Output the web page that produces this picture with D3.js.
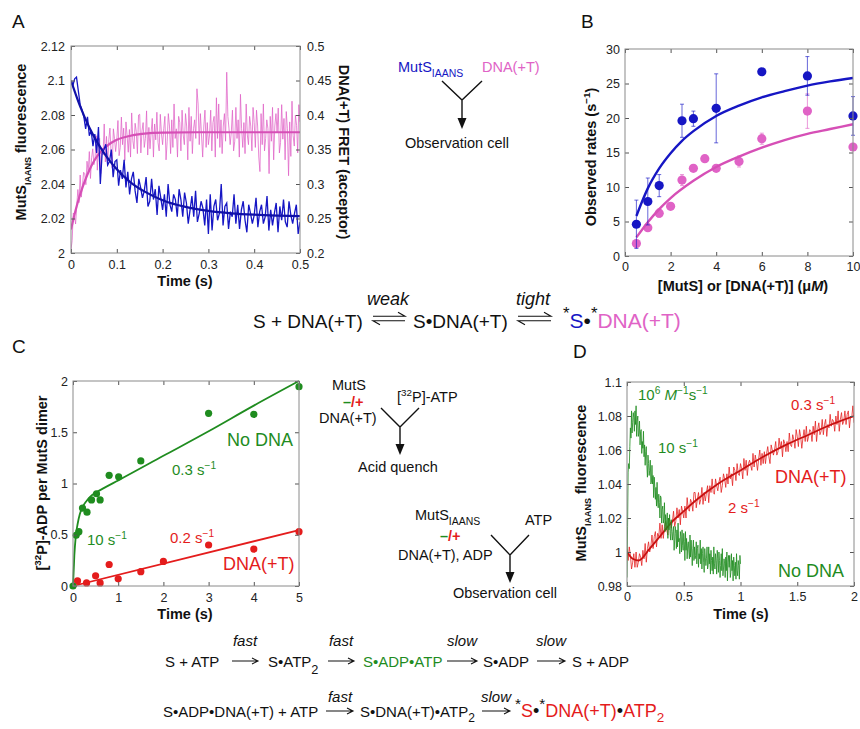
<!DOCTYPE html>
<html lang="en">
<head>
<meta charset="utf-8">
<title>MutS kinetics figure</title>
<script src="https://d3js.org/d3.v7.min.js"></script>
<style>
  body { margin: 0; background: #fff; }
  svg { font-family: "Liberation Sans", Arial, Helvetica, sans-serif; }
</style>
</head>
<body>
<svg id="fig" width="860" height="729"></svg>
<script>
// ---------- data ----------

// A: stopped-flow traces, sampled every step seconds
const aBlueStep = 0.004;
const aBlue = [2.099,2.097,2.101,2.102,2.094,2.086,2.083,2.079,2.072,2.079,2.068,2.071,2.062,2.069,2.058,2.073,2.040,2.058,2.060,2.063,
  2.051,2.053,2.060,2.044,2.053,2.054,2.039,2.048,2.043,2.054,2.038,2.047,2.034,2.043,2.047,2.036,2.029,2.043,2.038,2.032,
  2.036,2.044,2.027,2.030,2.043,2.031,2.037,2.022,2.039,2.032,2.025,2.034,2.021,2.040,2.028,2.024,2.034,2.031,2.021,2.037,
  2.031,2.021,2.035,2.029,2.017,2.025,2.033,2.021,2.036,2.018,2.023,2.030,2.026,2.016,2.031,2.011,2.034,2.013,2.027,2.031,
  2.019,2.023,2.040,2.016,2.027,2.029,2.014,2.024,2.021,2.034,2.017,2.028,2.014,2.025,2.030,2.019,2.012,2.028,2.023,2.017,
  2.022,2.032,2.015,2.024,2.028,2.017,2.021,2.033,2.013,2.025,2.016,2.023,2.029,2.012,2.027,2.019,2.031,2.018,2.015,2.030,
  2.022,2.017,2.023,2.028,2.011,2.018];
const aPinkStep = 0.0025;
const aPink = [0.205,0.218,0.258,0.255,0.242,0.268,0.292,0.273,0.313,0.281,0.297,0.317,0.315,0.299,0.333,0.317,0.347,0.308,0.338,0.351,
  0.328,0.337,0.370,0.320,0.357,0.366,0.315,0.352,0.342,0.387,0.332,0.369,0.326,0.364,0.381,0.346,0.323,0.380,0.366,0.347,
  0.364,0.392,0.341,0.353,0.397,0.357,0.381,0.334,0.390,0.370,0.346,0.379,0.339,0.403,0.363,0.351,0.388,0.376,0.344,0.400,
  0.401,0.345,0.377,0.389,0.353,0.366,0.406,0.342,0.382,0.351,0.375,0.395,0.339,0.387,0.364,0.404,0.360,0.348,0.401,0.373,
  0.357,0.380,0.398,0.335,0.362,0.402,0.384,0.344,0.393,0.353,0.416,0.366,0.380,0.339,0.398,0.389,0.348,0.407,0.371,0.357,
  0.402,0.384,0.335,0.411,0.362,0.398,0.344,0.380,0.393,0.366,0.438,0.416,0.357,0.402,0.371,0.339,0.384,0.407,0.353,0.389,
  0.357,0.371,0.407,0.348,0.389,0.398,0.339,0.425,0.366,0.416,0.353,0.393,0.344,0.384,0.402,0.362,0.462,0.398,0.380,0.357,
  0.375,0.407,0.348,0.362,0.411,0.366,0.393,0.339,0.430,0.380,0.353,0.389,0.344,0.416,0.371,0.357,0.398,0.384,0.348,0.411,
  0.389,0.353,0.407,0.384,0.339,0.318,0.402,0.357,0.416,0.348,0.366,0.393,0.380,0.315,0.398,0.362,0.411,0.335,0.384,0.402,
  0.375,0.410,0.345,0.360,0.415,0.365,0.395,0.335,0.405,0.380,0.312,0.390,0.340,0.420,0.370,0.355,0.400,0.385,0.345,0.415,
  0.390];
const aBlueFitT = [0, 0.02, 0.04, 0.06, 0.08, 0.1, 0.13, 0.16, 0.2, 0.25, 0.3, 0.35, 0.4, 0.45, 0.5];
const aBlueFitV = [2.100, 2.085, 2.0728, 2.063, 2.055, 2.0486, 2.041, 2.0357, 2.0306, 2.0267, 2.0244, 2.023, 2.0222, 2.0217, 2.0214];
const aPinkFitT = [0, 0.01, 0.02, 0.03, 0.04, 0.05, 0.06, 0.08, 0.1, 0.13, 0.16, 0.2, 0.3, 0.5];
const aPinkFitV = [0.234, 0.262, 0.285, 0.304, 0.32, 0.333, 0.343, 0.356, 0.364, 0.37, 0.373, 0.3745, 0.375, 0.375];
const aLeftTicks = [2, 2.02, 2.04, 2.06, 2.08, 2.1, 2.12];
const aRightTicks = [0.2, 0.25, 0.3, 0.35, 0.4, 0.45, 0.5];
const aTimeTicks = [0, 0.1, 0.2, 0.3, 0.4, 0.5];

// B: observed rates vs concentration
const bBlueConc = [0.5, 1, 1.5, 2.5, 3, 4, 6, 8, 10];
const bBlueRate = [4.6, 7.9, 10.2, 19.6, 19.9, 21.4, 26.7, 26.1, 20.3];
const bBlueErr  = [3.5, 3.4, 1.6, 2.4, 1.1, 5.0, 0.3, 2.8, 2.8];
const bPinkConc = [0.5, 1, 1.5, 2, 2.5, 3, 3.5, 4, 5, 6, 8, 10];
const bPinkRate = [1.8, 4.1, 6.2, 7.2, 11.0, 12.7, 14.1, 12.7, 13.7, 17.0, 21.0, 15.8];
const bPinkErr  = [0.5, 0.4, 0.6, 0.3, 0.8, 0.3, 0.3, 0.4, 0.8, 0.8, 2.5, 0.5];
const bBlueFitX = [0.5, 0.75, 1, 1.5, 2, 2.5, 3, 4, 5, 6, 7, 8, 9, 10];
const bBlueFitY = [5.8, 7.9, 9.8, 12.7, 14.9, 16.7, 18.1, 20.3, 21.8, 23.0, 23.9, 24.7, 25.3, 25.8];
const bPinkFitX = [0.5, 1, 1.5, 2, 3, 4, 5, 6, 7, 8, 9, 10];
const bPinkFitY = [2.7, 4.9, 6.8, 8.4, 10.9, 12.9, 14.4, 15.7, 16.8, 17.7, 18.4, 19.1];
const bRateTicks = [0, 5, 10, 15, 20, 25, 30];
const bConcTicks = [0, 2, 4, 6, 8, 10];

// C: acid-quench ADP formation
const cNoDnaTime = [0, 0.07, 0.13, 0.21, 0.31, 0.41, 0.52, 0.6, 0.8, 1.01, 1.5, 3, 4, 5];
const cNoDnaAdp  = [0, 0.495, 0.53, 0.76, 0.72, 0.84, 0.9, 0.84, 1.08, 1.065, 1.22, 1.685, 1.675, 1.945];
const cDnaTime = [0.1, 0.3, 0.5, 0.6, 0.8, 1, 1.5, 2, 3, 4, 5];
const cDnaAdp  = [0.05, 0.03, 0.1, 0.03, 0.21, 0.07, 0.14, 0.24, 0.4, 0.36, 0.53];
const cNoDnaFitT = [0, 0.03, 0.06, 0.1, 0.15, 0.2, 0.3, 0.4, 0.5, 0.7, 1, 2, 3, 4, 5];
const cNoDnaFitV = [0, 0.3, 0.48, 0.6, 0.7, 0.76, 0.83, 0.88, 0.91, 0.96, 1.03, 1.27, 1.51, 1.76, 2.0];
const cDnaFitT = [0, 5];
const cDnaFitV = [0, 0.545];
const cAdpTicks = [0, 0.5, 1, 1.5, 2];
const cTimeTicks = [0, 1, 2, 3, 4, 5];

// D: MutS_IAANS fluorescence on ATP mixing
const dGreenStep = 0.005;
const dGreen = [0.985,1.015,1.047,1.052,1.049,1.062,1.073,1.067,1.083,1.070,1.076,1.082,1.079,1.071,1.083,1.075,1.086,1.068,1.077,1.080,
  1.068,1.070,1.077,1.063,1.071,1.072,1.058,1.065,1.061,1.071,1.056,1.063,1.051,1.059,1.062,1.051,1.044,1.057,1.052,1.045,
  1.048,1.054,1.040,1.041,1.051,1.040,1.045,1.032,1.044,1.038,1.031,1.038,1.027,1.041,1.030,1.026,1.034,1.029,1.020,1.033,
  1.032,1.017,1.025,1.027,1.017,1.020,1.029,1.012,1.022,1.013,1.019,1.023,1.008,1.020,1.013,1.022,1.011,1.007,1.019,1.012,
  1.007,1.012,1.015,1.001,1.007,1.015,1.011,1.002,1.013,1.003,1.017,1.006,1.008,0.999,1.012,1.009,1.000,1.013,1.004,1.001,
  1.011,1.006,0.995,1.012,1.001,1.008,0.996,1.004,1.006,1.000,0.996,1.010,0.997,1.007,1.000,0.992,1.002,1.007,0.995,1.003,
  0.996,0.998,1.006,0.993,1.002,1.004,0.991,0.999,0.996,1.007,0.993,1.002,0.990,0.999,1.003,0.994,0.988,1.002,0.997,0.992,
  0.996,1.003,0.990,0.992,1.003,0.993,0.999,0.987,1.001,0.995,0.989,0.997,0.987,1.003,0.993,0.990,0.999,0.995,0.987,1.001,
  0.996,0.988,1.000,0.995,0.985,0.992,0.999,0.989,1.002,0.986,0.990,0.996,0.993,0.985,0.997,0.989,1.000,0.983,0.994,0.998,
  0.991,0.998,0.985,0.988,0.999,0.989,0.995,0.983,0.997,0.992,0.986,0.994,0.984,0.999,0.989,0.986,0.995,0.992,0.984,0.998,
  0.993];
const dRedStep = 0.01;
const dRed = [1.002,0.995,1.003,0.998,0.990,0.994,0.999,0.991,1.000,0.991,0.994,0.999,0.997,0.992,1.001,0.996,1.005,0.994,1.002,1.006,
  1.000,1.003,1.010,1.002,1.009,1.012,1.003,1.011,1.009,1.017,1.008,1.016,1.008,1.015,1.018,1.013,1.010,1.020,1.018,1.014,
  1.018,1.024,1.015,1.018,1.026,1.020,1.025,1.016,1.027,1.024,1.020,1.027,1.020,1.032,1.025,1.024,1.031,1.029,1.024,1.035,
  1.035,1.026,1.031,1.035,1.028,1.031,1.038,1.028,1.035,1.030,1.035,1.039,1.029,1.039,1.035,1.043,1.035,1.034,1.043,1.039,
  1.036,1.041,1.044,1.035,1.039,1.046,1.043,1.038,1.046,1.040,1.050,1.043,1.046,1.039,1.050,1.048,1.042,1.052,1.046,1.045,
  1.052,1.049,1.043,1.055,1.048,1.054,1.045,1.052,1.054,1.051,1.048,1.058,1.050,1.057,1.053,1.048,1.055,1.060,1.051,1.058,
  1.052,1.059,1.052,1.058,1.062,1.056,1.052,1.063,1.060,1.057,1.060,1.065,1.057,1.059,1.067,1.061,1.065,1.056,1.066,1.064,
  1.059,1.065,1.059,1.070,1.063,1.062,1.069,1.066,1.061,1.072,1.068,1.062,1.072,1.068,1.061,1.067,1.072,1.065,1.074,1.065,
  1.068,1.072,1.071,1.065,1.074,1.069,1.077,1.065,1.072,1.076,1.069,1.071,1.078,1.069,1.075,1.078,1.068,1.075,1.073,1.081,
  1.074,1.078,1.077,1.071,1.080,1.075,1.083,1.071,1.078,1.082,1.075,1.077,1.083,1.075,1.081,1.083,1.073,1.080,1.079,1.086,
  1.076];
const dRedFitT = [0, 0.05, 0.1, 0.2, 0.3, 0.4, 0.5, 0.6, 0.8, 1.0, 1.2, 1.4, 1.6, 1.8, 2.0];
const dRedFitV = [1.0, 0.996, 0.995, 1.002, 1.01, 1.018, 1.024, 1.03, 1.04, 1.048, 1.056, 1.063, 1.069, 1.075, 1.08];
const dFluorTicks = [0.98, 1, 1.02, 1.04, 1.06, 1.08, 1.1];
const dTimeTicks = [0, 0.5, 1, 1.5, 2];

// ---------- drawing ----------
const FONT = '"Liberation Sans", Arial, Helvetica, sans-serif';
const blue = "#1616c4", pink = "#e063c6", pinkFit = "#d64fb6";
const green = "#1f8c1f", red = "#e41c1c", ink = "#111";
const svg = d3.select("#fig");
const fmt = d => String(d);

function frame(box, x, y, xt, yt, opt = {}) {
  const g = svg.append("g");
  const style = s => s.attr("font-family", FONT).attr("font-size", 12.5);
  g.append("g").attr("transform", `translate(0,${box.y1})`)
    .call(d3.axisBottom(x).tickValues(xt).tickFormat(fmt).tickSizeInner(-4).tickSizeOuter(0).tickPadding(opt.padX || 7)).call(style);
  g.append("g").attr("transform", `translate(0,${box.y0})`)
    .call(d3.axisTop(x).tickValues(xt).tickFormat("").tickSizeInner(-4).tickSizeOuter(0));
  g.append("g").attr("transform", `translate(${box.x0},0)`)
    .call(d3.axisLeft(y).tickValues(yt).tickFormat(fmt).tickSizeInner(-4).tickSizeOuter(0).tickPadding(opt.padY || 5)).call(style);
  const yr = opt.yR || y;
  g.append("g").attr("transform", `translate(${box.x1},0)`)
    .call(d3.axisRight(yr).tickValues(opt.yRt || yt).tickFormat(opt.yR ? fmt : "").tickSizeInner(-4).tickSizeOuter(0).tickPadding(7)).call(style);
  g.selectAll(".domain").remove();
  g.selectAll(".tick line").attr("stroke", "#555");
  g.selectAll(".tick text").attr("fill", "#222");
  g.append("rect").attr("x", box.x0).attr("y", box.y0)
    .attr("width", box.x1 - box.x0).attr("height", box.y1 - box.y0)
    .attr("fill", "none").attr("stroke", "#8a8a8a").attr("stroke-width", 1);
  return g;
}

function clip(id, box) {
  svg.append("clipPath").attr("id", id).append("rect")
    .attr("x", box.x0).attr("y", box.y0).attr("width", box.x1 - box.x0).attr("height", box.y1 - box.y0);
  return `url(#${id})`;
}

// rich text: parts are strings or {t, sup, sub, c, i, s}
function rich(x, y, parts, o = {}) {
  const size = o.size || 14.5;
  const t = svg.append("text").attr("x", x).attr("y", y)
    .attr("font-size", size).attr("fill", o.fill || ink)
    .attr("text-anchor", o.anchor || "start");
  if (o.bold) t.attr("font-weight", "bold");
  if (o.transform) t.attr("transform", o.transform);
  let cur = 0;
  parts.forEach(p => {
    if (typeof p === "string") p = { t: p };
    const off = p.sup ? -size * 0.42 : p.sub ? size * (p.low || 0.3) : 0;
    const ts = t.append("tspan").attr("dy", off - cur).text(p.t);
    cur = off;
    if (p.sup || p.sub) ts.attr("font-size", size * (p.s || 0.68));
    if (p.c) ts.attr("fill", p.c);
    if (p.i) ts.attr("font-style", "italic");
  });
  return t;
}

function arrowRight(x0, x1, y) {
  svg.append("path").attr("d", `M${x0},${y}H${x1}M${x1 - 6},${y - 3}L${x1},${y}L${x1 - 6},${y + 3}`)
    .attr("fill", "none").attr("stroke", ink).attr("stroke-width", 1.1);
}
function eqArrow(x0, x1, y) {
  svg.append("path")
    .attr("d", `M${x0},${y - 2.3}H${x1}L${x1 - 7},${y - 6.3}M${x1},${y + 2.3}H${x0}L${x0 + 7},${y + 6.3}`)
    .attr("fill", "none").attr("stroke", ink).attr("stroke-width", 1.1);
}
function mixer(cx, yTop, yJoin, yEnd, spread) {
  svg.append("path")
    .attr("d", `M${cx - spread},${yTop}L${cx},${yJoin}L${cx + spread},${yTop}M${cx},${yJoin}V${yEnd - 9}`)
    .attr("fill", "none").attr("stroke", ink).attr("stroke-width", 1.4);
  svg.append("path").attr("d", `M${cx - 4.5},${yEnd - 11}L${cx + 4.5},${yEnd - 11}L${cx},${yEnd}Z`).attr("fill", ink);
}

// panel letters
[["A", 12, 28], ["B", 581, 28], ["C", 12, 353], ["D", 573, 358]].forEach(([l, x, y]) =>
  svg.append("text").attr("x", x).attr("y", y).attr("font-size", 19).attr("fill", ink).text(l));

// ----- panel A -----
const A = { x0: 71, x1: 300, y0: 46, y1: 253 };
const ax = d3.scaleLinear().domain([0, 0.5]).range([A.x0, A.x1]);
const ayL = d3.scaleLinear().domain([2, 2.12]).range([A.y1, A.y0]);
const ayR = d3.scaleLinear().domain([0.2, 0.5]).range([A.y1, A.y0]);
const clipA = clip("clipA", A);
const gA = svg.append("g").attr("clip-path", clipA);
gA.append("path").datum(aPink)
  .attr("d", d3.line().x((d, i) => ax(i * aPinkStep)).y(d => ayR(d)))
  .attr("fill", "none").attr("stroke", pink).attr("stroke-width", 0.9).attr("opacity", 0.85);
gA.append("path").datum(aPinkFitT)
  .attr("d", d3.line().x(d => ax(d)).y((d, i) => ayR(aPinkFitV[i])).curve(d3.curveMonotoneX))
  .attr("fill", "none").attr("stroke", pinkFit).attr("stroke-width", 2.2);
gA.append("path").datum(aBlue)
  .attr("d", d3.line().x((d, i) => ax(i * aBlueStep)).y(d => ayL(d)))
  .attr("fill", "none").attr("stroke", blue).attr("stroke-width", 1.3);
gA.append("path").datum(aBlueFitT)
  .attr("d", d3.line().x(d => ax(d)).y((d, i) => ayL(aBlueFitV[i])).curve(d3.curveMonotoneX))
  .attr("fill", "none").attr("stroke", "#1010a8").attr("stroke-width", 2.2);
frame(A, ax, ayL, aTimeTicks, aLeftTicks, { yR: ayR, yRt: aRightTicks, padX: 7, padY: 6 });
rich(0, 0, ["MutS", { t: "IAANS", sub: 1, s: 0.62, low: 0.35 }, " fluorescence"],
  { bold: 1, size: 14.5, anchor: "middle", transform: "translate(26,142) rotate(-90)" });
rich(0, 0, ["DNA(+T) FRET (acceptor)"],
  { bold: 1, size: 14.5, anchor: "middle", transform: "translate(339,152) rotate(90)" });
rich(185, 286, ["Time (s)"], { bold: 1, size: 14.5, anchor: "middle" });

// A mixing scheme
rich(398, 72, [{ t: "MutS", c: blue }, { t: "IAANS", sub: 1, c: blue, s: 0.72, low: 0.32 }], { size: 14.5 });
rich(482, 72, [{ t: "DNA(+T)", c: pink }], { size: 14.5 });
mixer(462, 81, 100, 129, 20);
rich(405, 148, ["Observation cell"], { size: 14.5 });

// ----- panel B -----
const B = { x0: 625, x1: 853, y0: 49, y1: 256 };
const bx = d3.scaleLinear().domain([0, 10]).range([B.x0, B.x1]);
const by = d3.scaleLinear().domain([0, 30]).range([B.y1, B.y0]);
function bSeries(conc, rate, err, col) {
  const g = svg.append("g");
  g.selectAll("path.err").data(conc).join("path")
    .attr("d", (c, i) => {
      const x = bx(c), lo = by(rate[i] - err[i]), hi = by(rate[i] + err[i]);
      return `M${x},${lo}V${hi}M${x - 2},${lo}H${x + 2}M${x - 2},${hi}H${x + 2}`;
    })
    .attr("fill", "none").attr("stroke", col).attr("stroke-width", 1).attr("opacity", 0.65);
  g.selectAll("circle").data(conc).join("circle")
    .attr("cx", c => bx(c)).attr("cy", (c, i) => by(rate[i])).attr("r", 4.6).attr("fill", col);
}
bSeries(bPinkConc, bPinkRate, bPinkErr, pink);
svg.append("path").datum(bPinkFitX)
  .attr("d", d3.line().x(d => bx(d)).y((d, i) => by(bPinkFitY[i])).curve(d3.curveMonotoneX))
  .attr("fill", "none").attr("stroke", pinkFit).attr("stroke-width", 2.4);
bSeries(bBlueConc, bBlueRate, bBlueErr, blue);
svg.append("path").datum(bBlueFitX)
  .attr("d", d3.line().x(d => bx(d)).y((d, i) => by(bBlueFitY[i])).curve(d3.curveMonotoneX))
  .attr("fill", "none").attr("stroke", blue).attr("stroke-width", 2.4);
frame(B, bx, by, bConcTicks, bRateTicks, { padX: 6, padY: 5 });
rich(0, 0, ["Observed rates (s", { t: "\u22121", sup: 1 }, ")"],
  { bold: 1, size: 14.5, anchor: "middle", transform: "translate(596,157) rotate(-90)" });
rich(743, 291, ["[MutS] or [DNA(+T)] (\u03bc", { t: "M", i: 1 }, ")"], { bold: 1, size: 14.5, anchor: "middle" });

// middle scheme
rich(253, 328, ["S + DNA(+T)"], { size: 19 });
eqArrow(373, 405, 318.5);
rich(388, 305, [{ t: "weak", i: 1 }], { size: 18, anchor: "middle" });
rich(413, 328, ["S\u2022DNA(+T)"], { size: 19 });
eqArrow(518, 551, 318.5);
rich(533, 305, [{ t: "tight", i: 1 }], { size: 18, anchor: "middle" });
rich(563, 328, [{ t: "*", sup: 1, s: 0.8 }, { t: "S", c: blue }, "\u2022", { t: "*", sup: 1, s: 0.8 }, { t: "DNA(+T)", c: pink }], { size: 21 });

// ----- panel C -----
const C = { x0: 73, x1: 299, y0: 381, y1: 586 };
const cx = d3.scaleLinear().domain([0, 5]).range([C.x0, C.x1]);
const cy = d3.scaleLinear().domain([0, 2]).range([C.y1, C.y0]);
svg.append("path").datum(cDnaFitT)
  .attr("d", d3.line().x(d => cx(d)).y((d, i) => cy(cDnaFitV[i])))
  .attr("fill", "none").attr("stroke", red).attr("stroke-width", 1.8);
svg.append("path").datum(cNoDnaFitT)
  .attr("d", d3.line().x(d => cx(d)).y((d, i) => cy(cNoDnaFitV[i])).curve(d3.curveMonotoneX))
  .attr("fill", "none").attr("stroke", green).attr("stroke-width", 1.8);
svg.append("g").selectAll("circle").data(cDnaTime).join("circle")
  .attr("cx", d => cx(d)).attr("cy", (d, i) => cy(cDnaAdp[i])).attr("r", 3.6).attr("fill", red);
svg.append("g").selectAll("circle").data(cNoDnaTime).join("circle")
  .attr("cx", d => cx(d)).attr("cy", (d, i) => cy(cNoDnaAdp[i])).attr("r", 3.6).attr("fill", green);
frame(C, cx, cy, cTimeTicks, cAdpTicks, { padX: 7, padY: 5 });
rich(0, 0, ["[", { t: "32", sup: 1 }, "P]-ADP per MutS dimer"],
  { bold: 1, size: 14.5, anchor: "middle", transform: "translate(47,483) rotate(-90)" });
rich(185, 619, ["Time (s)"], { bold: 1, size: 14.5, anchor: "middle" });
rich(227, 446, ["No DNA"], { size: 18, fill: green });
rich(172, 475, ["0.3 s", { t: "\u22121", sup: 1 }], { size: 15, fill: green });
rich(87, 545, ["10 s", { t: "\u22121", sup: 1 }], { size: 15, fill: green });
rich(170, 543, ["0.2 s", { t: "\u22121", sup: 1 }], { size: 15, fill: red });
rich(223, 570, ["DNA(+T)"], { size: 18, fill: red });

// C mixing schemes
rich(332, 390, ["MutS"], { size: 14.5 });
rich(343, 407, [{ t: "\u2013", c: green }, { t: "/+", c: red }], { size: 14.5, bold: 1 });
rich(319, 423, ["DNA(+T)"], { size: 14.5 });
rich(397, 402, ["[", { t: "32", sup: 1 }, "P]-ATP"], { size: 14.5 });
mixer(400, 408, 427, 455, 19);
rich(358, 472, ["Acid quench"], { size: 14.5 });

rich(415, 520, ["MutS", { t: "IAANS", sub: 1, s: 0.72, low: 0.32 }], { size: 14.5 });
rich(440, 541, [{ t: "\u2013", c: green }, { t: "/+", c: red }], { size: 14.5, bold: 1 });
rich(398, 560, ["DNA(+T), ADP"], { size: 14.5 });
rich(525, 525, ["ATP"], { size: 14.5 });
mixer(510, 535, 555, 583, 19);
rich(453, 598, ["Observation cell"], { size: 14.5 });

// ----- panel D -----
const D = { x0: 627, x1: 854, y0: 382, y1: 586 };
const dx = d3.scaleLinear().domain([0, 2]).range([D.x0, D.x1]);
const dy = d3.scaleLinear().domain([0.98, 1.1]).range([D.y1, D.y0]);
const clipD = clip("clipD", D);
const gD = svg.append("g").attr("clip-path", clipD);
gD.append("path").datum(dRed)
  .attr("d", d3.line().x((d, i) => dx(i * dRedStep)).y(d => dy(d)))
  .attr("fill", "none").attr("stroke", red).attr("stroke-width", 0.9).attr("opacity", 0.85);
gD.append("path").datum(dRedFitT)
  .attr("d", d3.line().x(d => dx(d)).y((d, i) => dy(dRedFitV[i])).curve(d3.curveMonotoneX))
  .attr("fill", "none").attr("stroke", "#c81010").attr("stroke-width", 1.8);
gD.append("path").datum(dGreen)
  .attr("d", d3.line().x((d, i) => dx(i * dGreenStep)).y(d => dy(d)))
  .attr("fill", "none").attr("stroke", green).attr("stroke-width", 0.9).attr("opacity", 0.9);
frame(D, dx, dy, dTimeTicks, dFluorTicks, { padX: 6, padY: 5 });
rich(0, 0, ["MutS", { t: "IAANS", sub: 1, s: 0.62, low: 0.35 }, " fluorescence"],
  { bold: 1, size: 14.5, anchor: "middle", transform: "translate(586,483) rotate(-90)" });
rich(741, 619, ["Time (s)"], { bold: 1, size: 14.5, anchor: "middle" });
rich(638, 400, ["10", { t: "6", sup: 1 }, " ", { t: "M", i: 1 }, { t: "\u22121", sup: 1 }, "s", { t: "\u22121", sup: 1 }], { size: 15, fill: green });
rich(658, 453, ["10 s", { t: "\u22121", sup: 1 }], { size: 15, fill: green });
rich(791, 410, ["0.3 s", { t: "\u22121", sup: 1 }], { size: 15, fill: red });
rich(775, 483, ["DNA(+T)"], { size: 18, fill: red });
rich(728, 513, ["2 s", { t: "\u22121", sup: 1 }], { size: 15, fill: red });
rich(778, 577, ["No DNA"], { size: 18, fill: green });

// ----- bottom schemes -----
rich(165, 667, ["S + ATP"], { size: 15 });
arrowRight(232, 258, 661);
rich(245, 646, [{ t: "fast", i: 1 }], { size: 15, anchor: "middle" });
rich(268, 667, ["S\u2022ATP", { t: "2", sub: 1, s: 0.85, low: 0.45 }], { size: 15 });
arrowRight(328, 354, 661);
rich(341, 646, [{ t: "fast", i: 1 }], { size: 15, anchor: "middle" });
rich(363, 667, ["S\u2022ADP\u2022ATP"], { size: 15, fill: green });
arrowRight(447, 477, 661);
rich(462, 646, [{ t: "slow", i: 1 }], { size: 15, anchor: "middle" });
rich(483, 667, ["S\u2022ADP"], { size: 15 });
arrowRight(537, 565, 661);
rich(551, 646, [{ t: "slow", i: 1 }], { size: 15, anchor: "middle" });
rich(572, 667, ["S + ADP"], { size: 15 });

rich(163, 717, ["S\u2022ADP\u2022DNA(+T) + ATP"], { size: 15 });
arrowRight(326, 353, 711);
rich(340, 702, [{ t: "fast", i: 1 }], { size: 15, anchor: "middle" });
rich(360, 717, ["S\u2022DNA(+T)\u2022ATP", { t: "2", sub: 1, s: 0.8, low: 0.35 }], { size: 15 });
arrowRight(482, 510, 711);
rich(496, 702, [{ t: "slow", i: 1 }], { size: 15, anchor: "middle" });
rich(515, 717, [{ t: "*", sup: 1, s: 0.85 }, { t: "S", c: red }, "\u2022", { t: "*", sup: 1, s: 0.85 },
  { t: "DNA(+T)", c: red }, "\u2022", { t: "ATP", c: red }, { t: "2", sub: 1, s: 0.75, low: 0.28, c: red }], { size: 18 });
</script>
</body>
</html>
